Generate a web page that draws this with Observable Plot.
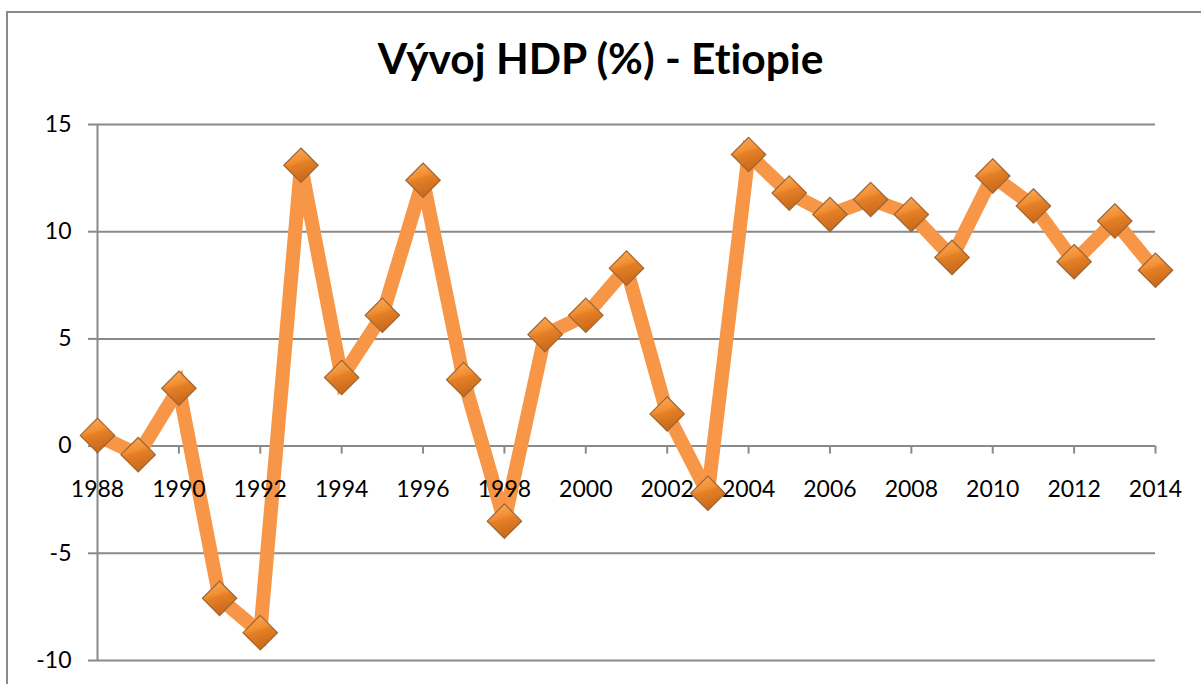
<!DOCTYPE html>
<html>
<head>
<meta charset="utf-8">
<script src="https://cdn.jsdelivr.net/npm/d3@7"></script>
<script src="https://cdn.jsdelivr.net/npm/@observablehq/plot@0.6"></script>
<style>
  html, body { margin: 0; padding: 0; background: #fff; }
  #wrap { position: relative; width: 1201px; height: 684px; overflow: hidden; font-family: Lato, "Open Sans", sans-serif; font-variant-ligatures: none; }
  #border { position: absolute; left: 6px; top: 11px; width: 1300px; height: 800px; border: 2px solid #8a8a8a; box-sizing: border-box; }
  #title { position: absolute; left: 0; top: 37px; width: 1201px; text-align: center; font-size: 42.5px; font-weight: bold; color: #000; line-height: 1; font-variant-ligatures: none; font-feature-settings: "liga" 0, "clig" 0; }
  #chart { position: absolute; left: 0; top: 0; }
</style>
</head>
<body>
<div id="wrap">
  <div id="border"></div>
  <div id="title">Vývoj HDP (%) - Etiopie</div>
  <div id="chart"></div>
</div>
<script>
const years = [1988, 1989, 1990, 1991, 1992, 1993, 1994, 1995, 1996, 1997, 1998, 1999, 2000, 2001, 2002, 2003, 2004, 2005, 2006, 2007, 2008, 2009, 2010, 2011, 2012, 2013, 2014];
const gdpGrowth = [0.5, -0.4, 2.7, -7.1, -8.7, 13.1, 3.2, 6.1, 12.4, 3.1, -3.5, 5.2, 6.1, 8.3, 1.5, -2.2, 13.6, 11.8, 10.8, 11.5, 10.8, 8.8, 12.6, 11.2, 8.6, 10.5, 8.2];
const xTicks = [1988, 1990, 1992, 1994, 1996, 1998, 2000, 2002, 2004, 2006, 2008, 2010, 2012, 2014];
const yTicks = [-10, -5, 0, 5, 10, 15];

const data = years.map((y, i) => ({year: y, value: gdpGrowth[i]}));

const W = 1201, H = 684;
const mTop = 124, mBottom = 24, mLeft = 97, mRight = 46;
const yDomain = [-10, 15];
const grid = "#8a8a8a";
// pixel offset of the zero line from the frame bottom
const zeroOffset = (H - mTop - mBottom) * (0 - yDomain[0]) / (yDomain[1] - yDomain[0]);

const chart = Plot.plot({
  width: W,
  height: H,
  marginTop: mTop,
  marginBottom: mBottom,
  marginLeft: mLeft,
  marginRight: mRight,
  style: {fontFamily: "Lato, 'Open Sans', sans-serif", fontSize: "23px", color: "#000", background: "transparent", overflow: "visible"},
  x: {domain: [1988, 2014]},
  y: {domain: yDomain},
  marks: [
    Plot.ruleY(yTicks, {stroke: grid, strokeWidth: 2}),
    Plot.ruleX([1988], {stroke: grid, strokeWidth: 2}),
    Plot.axisY(yTicks, {anchor: "left", tickSize: 9, tickPadding: 17, stroke: grid, strokeWidth: 2, fill: "#000", label: null, tickFormat: d => String(d).replace("−", "-")}),
    Plot.line(data, {x: "year", y: "value", stroke: "#F79646", strokeWidth: 14, strokeLinejoin: "miter", strokeMiterlimit: 3}),
    Plot.axisX(xTicks, {anchor: "bottom", tickSize: 8, tickPadding: 27, stroke: grid, strokeWidth: 2, fill: "#000", label: null, tickFormat: d => String(d), dy: -zeroOffset}),
    Plot.dot(data, {x: "year", y: "value", symbol: "diamond2", r: 15.5, fill: "url(#mkGrad)", stroke: "#9b6634", strokeWidth: 1.2, ariaLabel: "markers"})
  ]
});

const svg = d3.select(chart);
const defs = svg.insert("defs", ":first-child");
const g = defs.append("linearGradient").attr("id", "mkGrad").attr("x1", 0).attr("y1", 0).attr("x2", 0.3).attr("y2", 1);
g.append("stop").attr("offset", "0%").attr("stop-color", "#FBB064");
g.append("stop").attr("offset", "45%").attr("stop-color", "#F28F33");
g.append("stop").attr("offset", "55%").attr("stop-color", "#E47F25");
g.append("stop").attr("offset", "100%").attr("stop-color", "#C96A1C");
const f = defs.append("filter").attr("id", "mkShadow").attr("x", "-50%").attr("y", "-50%").attr("width", "200%").attr("height", "200%");
f.append("feDropShadow").attr("dx", 1.5).attr("dy", 2.5).attr("stdDeviation", 1.8).attr("flood-color", "#000").attr("flood-opacity", 0.4);
svg.selectAll("g[aria-label='markers']").attr("filter", "url(#mkShadow)");

document.getElementById("chart").appendChild(chart);
</script>
</body>
</html>
